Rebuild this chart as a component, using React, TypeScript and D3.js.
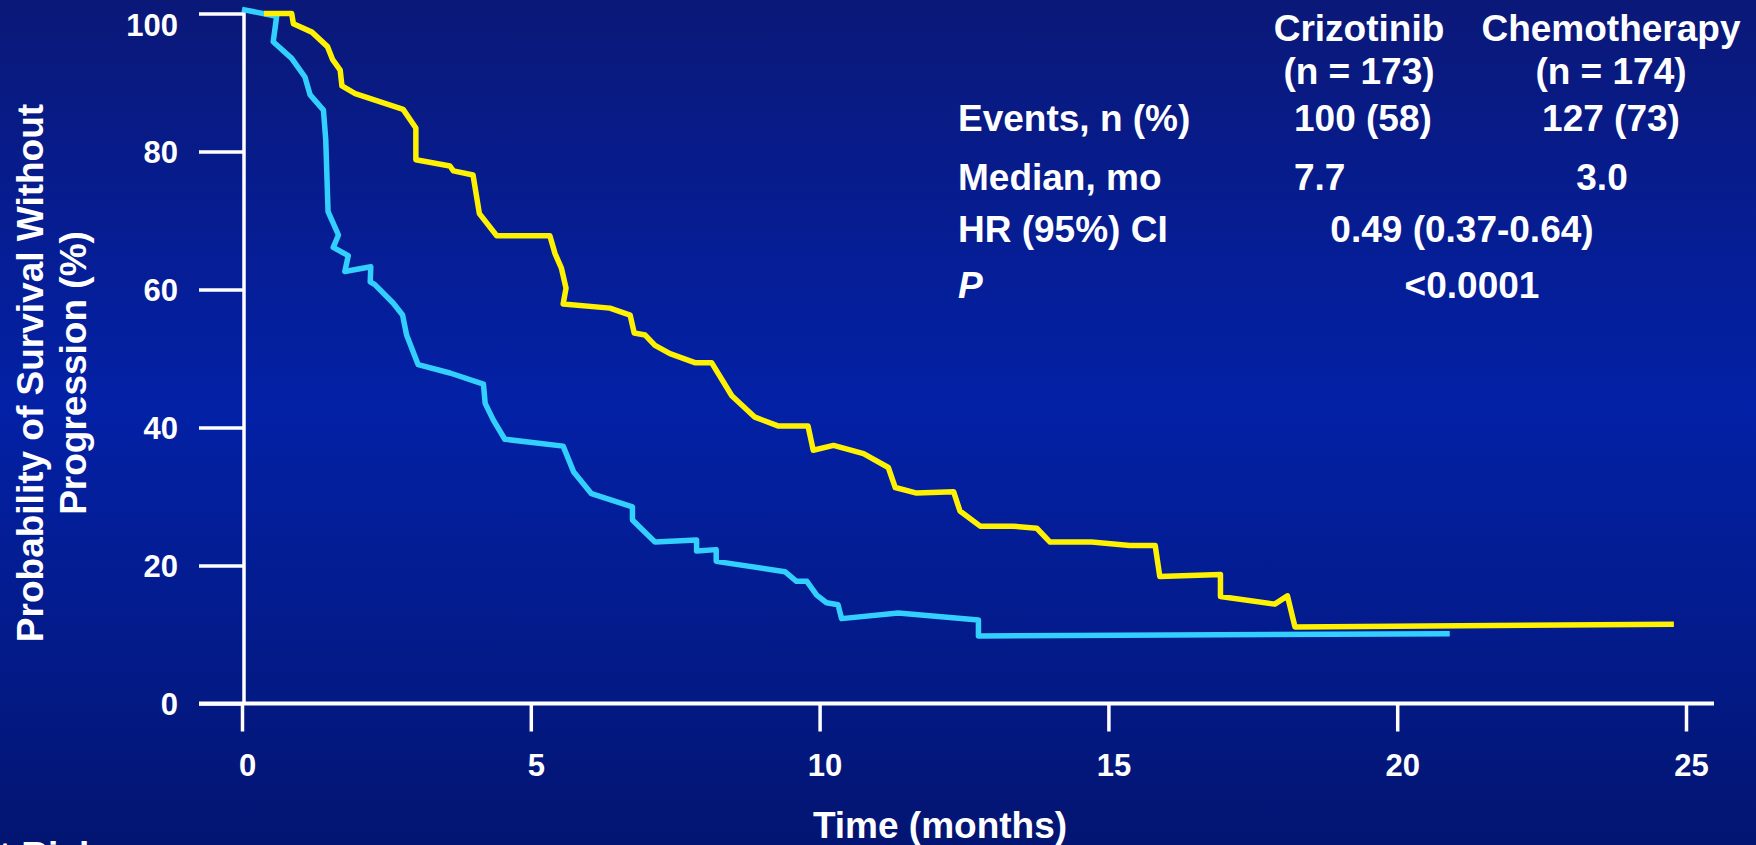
import React, { useEffect, useRef } from "react";
import * as d3 from "d3";

const W = 1756;
const H = 845;

// PFS curves: [month, % without progression]
const crizotinib: [number, number][] = [
  [0.38, 100], [0.86, 100], [0.89, 98.5], [1.21, 97.3], [1.48, 95.2], [1.57, 93.3],
  [1.7, 91.8], [1.73, 89.5], [1.96, 88.4], [2.79, 86.1], [3.01, 83.4], [3.01, 78.8],
  [3.6, 77.9], [3.66, 77.2], [4.0, 76.6], [4.11, 71.0], [4.41, 67.8], [5.33, 67.8],
  [5.42, 65.2], [5.53, 63.1], [5.61, 60.2], [5.56, 57.9], [6.37, 57.3], [6.72, 56.3],
  [6.79, 53.7], [6.98, 53.4], [7.15, 51.9], [7.41, 50.7], [7.84, 49.4], [8.13, 49.4],
  [8.48, 44.6], [8.88, 41.5], [9.29, 40.2], [9.8, 40.2], [9.89, 36.7], [10.24, 37.4],
  [10.76, 36.2], [11.19, 34.2], [11.31, 31.3], [11.68, 30.5], [12.32, 30.7], [12.43, 27.9],
  [12.78, 25.7], [13.35, 25.7], [13.76, 25.4], [13.99, 23.4], [14.71, 23.4], [15.37, 22.9],
  [15.81, 22.9], [15.89, 18.4], [16.94, 18.7], [16.94, 15.5], [17.88, 14.4], [18.1, 15.6],
  [18.23, 11.1], [24.79, 11.5],
];

const chemotherapy: [number, number][] = [
  [0, 100.6], [0.6, 99.6], [0.54, 95.9], [0.86, 93.5], [1.09, 90.8], [1.18, 88.2],
  [1.41, 86.0], [1.45, 81.7], [1.49, 71.3], [1.67, 67.9], [1.58, 66.1], [1.84, 64.9],
  [1.78, 62.6], [2.23, 63.3], [2.22, 61.1], [2.3, 60.7], [2.62, 58.0], [2.78, 56.3],
  [2.85, 53.4], [3.05, 49.1], [3.6, 47.9], [4.18, 46.3], [4.21, 43.5], [4.35, 41.1],
  [4.55, 38.3], [5.56, 37.3], [5.74, 33.6], [6.05, 30.4], [6.76, 28.5], [6.76, 26.6],
  [7.15, 23.4], [7.87, 23.7], [7.87, 22.1], [8.21, 22.3], [8.21, 20.6], [9.4, 19.1],
  [9.6, 17.7], [9.78, 17.7], [9.95, 15.7], [10.12, 14.6], [10.32, 14.3], [10.38, 12.3],
  [11.36, 13.1], [12.75, 12.1], [12.75, 9.8], [20.91, 10.1],
];

const xTicks = [0, 5, 10, 15, 20, 25];
const yTicks = [0, 20, 40, 60, 80, 100];

const armNames = ["Crizotinib", "Chemotherapy"];
const armCounts = ["(n = 173)", "(n = 174)"];
const rowLabels = ["Events, n (%)", "Median, mo", "HR (95%) CI", "P"];
const events = ["100 (58)", "127 (73)"];
const medians = ["7.7", "3.0"];
const hazard = "0.49 (0.37-0.64)";
const pValue = "<0.0001";

const bgStops: [number, string][] = [
  [0, "#0a1878"],
  [0.48, "#0321a6"],
  [1, "#031572"],
];

const App = () => {
  const ref = useRef<SVGSVGElement>(null);

  useEffect(() => {
    const svg = d3.select(ref.current);
    svg.selectAll("*").remove();
    const font = "'Liberation Sans', Arial, Helvetica, sans-serif";

    // background
    const grad = svg
      .append("defs")
      .append("linearGradient")
      .attr("id", "bg")
      .attr("x1", 0)
      .attr("y1", 0)
      .attr("x2", 0)
      .attr("y2", 1);
    bgStops.forEach(([o, c]) => grad.append("stop").attr("offset", o).attr("stop-color", c));
    svg.append("rect").attr("width", W).attr("height", H).attr("fill", "url(#bg)");

    const x = d3.scaleLinear().domain([0, 25]).range([242, 1686]);
    const y = d3.scaleLinear().domain([0, 100]).range([703.5, 13.5]);

    // y axis
    const yAxis = svg
      .append("g")
      .attr("transform", `translate(${x(0) + 2},0)`)
      .call(d3.axisLeft(y).tickValues(yTicks).tickSize(45).tickSizeOuter(0).tickPadding(21));
    yAxis.select(".domain").attr("stroke", "#fff").attr("stroke-width", 3.5)
      .attr("d", `M0,${y(100) - 2}V${y(0)}`);
    yAxis.selectAll(".tick line").attr("stroke", "#fff").attr("stroke-width", 3.5);
    yAxis
      .selectAll<SVGTextElement, number>(".tick text")
      .attr("fill", "#fff")
      .attr("dy", null)
      .attr("y", (d) => Math.max(11, 35 - y(d)))
      .style("font", `bold 31px ${font}`);

    // x axis
    const xAxis = svg
      .append("g")
      .attr("transform", `translate(0,${y(0)})`)
      .call(d3.axisBottom(x).tickValues(xTicks).tickSize(28).tickPadding(22));
    xAxis.select(".domain").remove();
    xAxis.selectAll(".tick line").attr("stroke", "#fff").attr("stroke-width", 3.5);
    xAxis
      .selectAll(".tick text")
      .attr("fill", "#fff")
      .attr("dx", 5)
      .style("font", `bold 31px ${font}`);
    svg
      .append("line")
      .attr("x1", x(0) - 43)
      .attr("x2", x(25) + 28)
      .attr("y1", y(0))
      .attr("y2", y(0))
      .attr("stroke", "#fff")
      .attr("stroke-width", 4);

    // curves
    const line = d3
      .line<[number, number]>()
      .x((d) => x(d[0]))
      .y((d) => y(d[1]));

    svg.append("path").datum(chemotherapy).attr("d", line)
      .attr("fill", "none").attr("stroke", "#33cfff").attr("stroke-width", 5.5)
      .attr("stroke-linejoin", "round");
    svg.append("path").datum(crizotinib).attr("d", line)
      .attr("fill", "none").attr("stroke", "#fff200").attr("stroke-width", 5.5)
      .attr("stroke-linejoin", "round");

    // text helper
    const txt = (s: string, tx: number, ty: number, anchor = "middle", size = 37, italic = false) =>
      svg
        .append("text")
        .text(s)
        .attr("x", tx)
        .attr("y", ty)
        .attr("text-anchor", anchor)
        .attr("fill", "#fff")
        .style("font", `${italic ? "italic " : ""}bold ${size}px ${font}`);

    // axis titles
    svg.append("text").text("Probability of Survival Without")
      .attr("transform", "translate(43,373) rotate(-90)")
      .attr("text-anchor", "middle").attr("fill", "#fff")
      .style("font", `bold 37px ${font}`);
    svg.append("text").text("Progression (%)")
      .attr("transform", "translate(86,373) rotate(-90)")
      .attr("text-anchor", "middle").attr("fill", "#fff")
      .style("font", `bold 37px ${font}`);
    txt("Time (months)", 940, 838);
    // partly outside the frame, as on the slide
    txt("At Risk", -28, 868, "start");

    // summary table
    const colX = [1359, 1611];
    armNames.forEach((n, i) => txt(n, colX[i], 41));
    armCounts.forEach((n, i) => txt(n, colX[i], 84));
    const rowY = [131, 190, 242, 298];
    rowLabels.forEach((l, i) => txt(l, 958, rowY[i], "start", 37, l === "P"));
    txt(events[0], 1294, rowY[0], "start");
    txt(events[1], 1611, rowY[0]);
    txt(medians[0], 1294, rowY[1], "start");
    txt(medians[1], 1602, rowY[1]);
    txt(hazard, 1462, rowY[2]);
    txt(pValue, 1472, rowY[3]);
  }, []);

  return (
    <svg
      ref={ref}
      width={W}
      height={H}
      style={{ position: "absolute", left: 0, top: 0, display: "block" }}
    />
  );
};

export default App;
